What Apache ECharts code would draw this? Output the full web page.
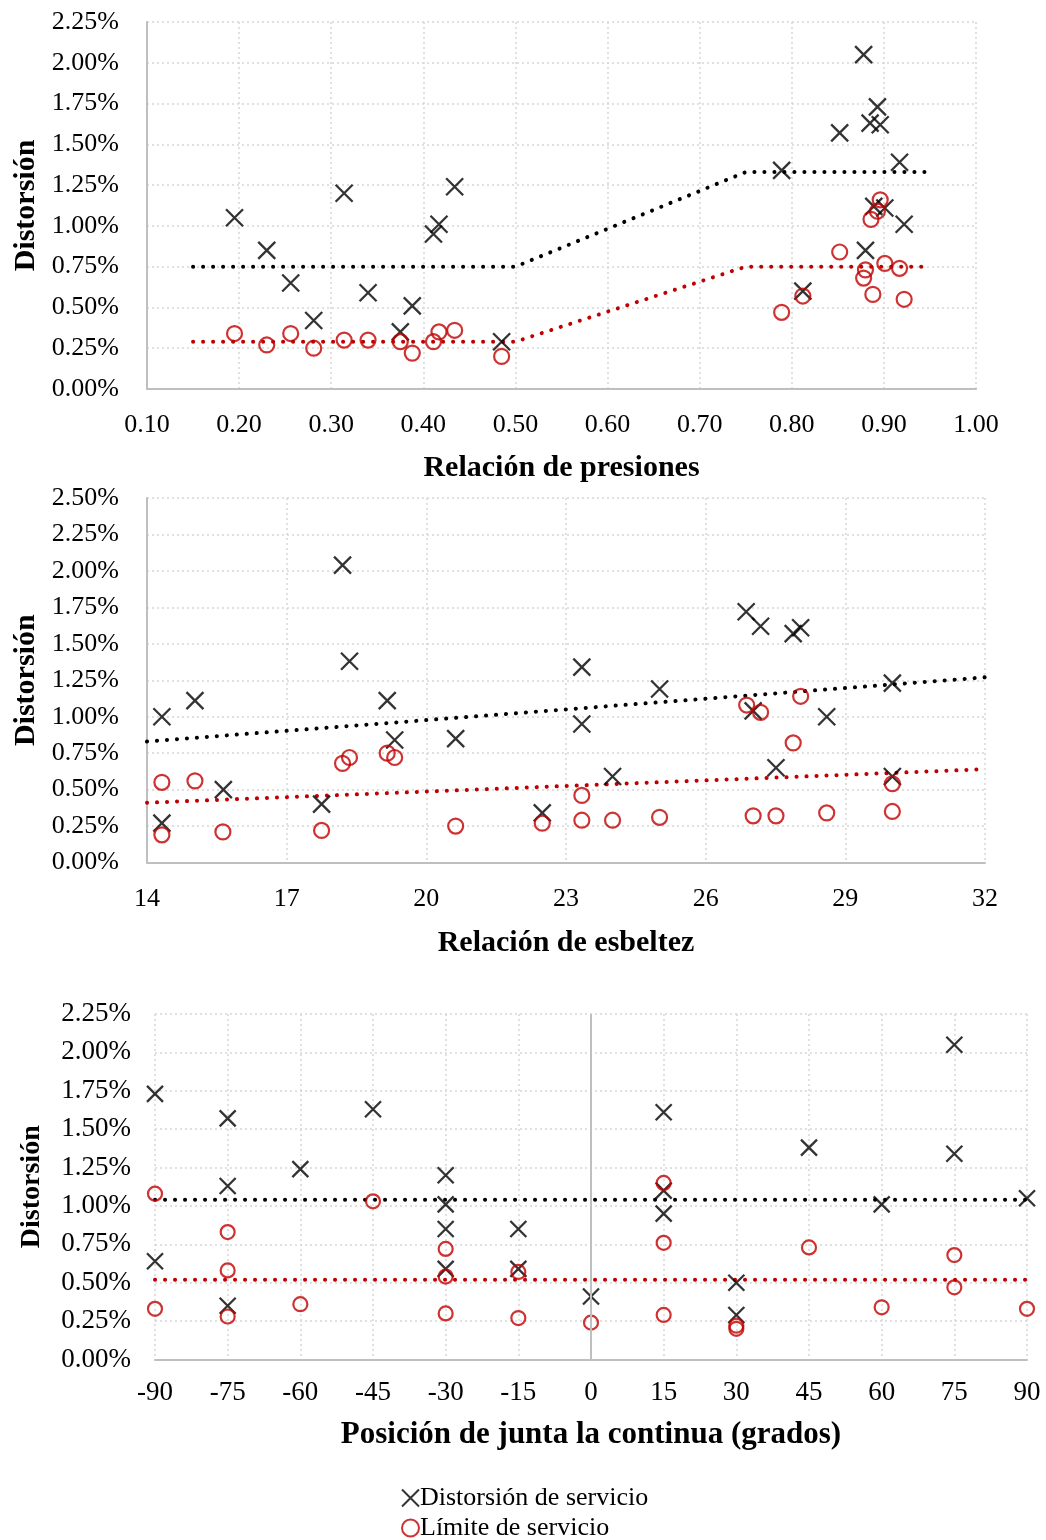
<!DOCTYPE html>
<html>
<head>
<meta charset="utf-8">
<title>Distorsión</title>
<script src="https://cdn.jsdelivr.net/npm/echarts@6/dist/echarts.min.js"></script>
<style>
  html, body { margin: 0; padding: 0; background: #fff; }
  #chart { width: 1046px; height: 1540px; }
</style>
</head>
<body>
<div id="chart"></div>
<script>
// ---- Relación de presiones ----
const presDistX = [0.195, 0.230, 0.256, 0.281, 0.314, 0.340, 0.375, 0.388, 0.411, 0.417, 0.434, 0.485,
                   0.789, 0.812, 0.852, 0.878, 0.880, 0.885, 0.889, 0.893, 0.896, 0.901, 0.917, 0.922];
const presDistY = [1.05, 0.85, 0.65, 0.42, 1.20, 0.59, 0.35, 0.51, 0.95, 1.01, 1.24, 0.29,
                   1.34, 0.60, 1.57, 2.05, 0.85, 1.63, 1.12, 1.73, 1.62, 1.11, 1.39, 1.01];
const presLimX  = [0.195, 0.230, 0.256, 0.281, 0.314, 0.340, 0.375, 0.388, 0.411, 0.417, 0.434, 0.485,
                   0.789, 0.812, 0.852, 0.878, 0.880, 0.886, 0.888, 0.893, 0.896, 0.901, 0.917, 0.922];
const presLimY  = [0.34, 0.27, 0.34, 0.25, 0.30, 0.30, 0.29, 0.22, 0.29, 0.35, 0.36, 0.20,
                   0.47, 0.57, 0.84, 0.68, 0.73, 1.04, 0.58, 1.09, 1.16, 0.77, 0.74, 0.55];
const presTrendX     = [0.15, 0.50, 0.75, 0.95];
const presTrendDistY = [0.75, 0.75, 1.33, 1.33];
const presTrendLimY  = [0.29, 0.29, 0.75, 0.75];

// ---- Relación de esbeltez ----
const esbDistX = [14.32, 15.03, 15.64, 14.32, 18.20, 18.35, 17.75, 19.16, 19.32, 20.63, 23.34, 23.34,
                  22.49, 24.00, 25.01, 26.87, 27.18, 27.88, 28.04, 27.02, 27.51, 28.60, 30.01, 30.01];
const esbDistY = [1.00, 1.11, 0.50, 0.27, 2.04, 1.38, 0.40, 1.11, 0.84, 0.85, 1.34, 0.95,
                  0.34, 0.59, 1.19, 1.72, 1.62, 1.57, 1.61, 1.04, 0.65, 1.00, 1.23, 0.59];
const esbLimX  = [14.32, 15.03, 14.32, 15.63, 18.20, 18.35, 17.75, 19.16, 19.32, 20.63, 22.49, 23.34,
                  23.34, 24.00, 25.01, 26.88, 27.18, 28.04, 27.88, 27.02, 27.51, 28.60, 30.01, 30.01];
const esbLimY  = [0.55, 0.56, 0.19, 0.21, 0.68, 0.72, 0.22, 0.75, 0.72, 0.25, 0.27, 0.46,
                  0.29, 0.29, 0.31, 1.08, 1.03, 1.14, 0.82, 0.32, 0.32, 0.34, 0.54, 0.35];
const esbTrendX     = [14, 32];
const esbTrendDistY = [0.83, 1.27];
const esbTrendLimY  = [0.41, 0.64];

// ---- Posición de junta ----
const angDistX = [-90, -90, -75, -75, -75, -60, -45, -30, -30, -30, -30, -15, -15,
                  0, 15, 15, 15, 30, 30, 45, 60, 75, 75, 90];
const angDistY = [1.73, 0.64, 1.57, 1.13, 0.35, 1.24, 1.63, 1.20, 1.01, 0.85, 0.59, 0.85, 0.59,
                  0.41, 1.61, 1.10, 0.95, 0.50, 0.29, 1.38, 1.01, 2.05, 1.34, 1.05];
const angLimX  = [-90, -90, -75, -75, -75, -60, -45, -30, -30, -30, -15, -15,
                  0, 15, 15, 15, 30, 30, 45, 60, 75, 75, 90];
const angLimY  = [1.08, 0.33, 0.83, 0.58, 0.28, 0.36, 1.03, 0.72, 0.54, 0.30, 0.57, 0.27,
                  0.24, 1.15, 0.76, 0.29, 0.22, 0.20, 0.73, 0.34, 0.68, 0.47, 0.33];
const angTrendX     = [-90, 90];
const angTrendDistY = [1.04, 1.04];
const angTrendLimY  = [0.52, 0.52];

const NAME_DIST = 'Distorsión de servicio';
const NAME_LIM  = 'Límite de servicio';
const RED = '#c00000';
const FONT = "'Liberation Serif', 'Times New Roman', serif";
const CROSS = 'path://M0,0L10,10M10,0L0,10';

const zip = (xs, ys) => xs.map((x, i) => [x, ys[i]]);

const gridDots = { show: true, lineStyle: { type: [2, 3], color: '#d6d6d6', width: 1.5 } };
const solidAxis = { show: true, onZero: false, lineStyle: { color: '#bfbfbf', width: 2 } };

function xAxisFor(idx, min, max, interval, fmt, name, labelSize, nameGap, margin, nameSize) {
  return {
    gridIndex: idx, type: 'value', min, max, interval,
    axisLine: solidAxis, axisTick: { show: false }, splitLine: gridDots,
    axisLabel: { color: '#000', fontFamily: FONT, fontSize: labelSize, margin, formatter: fmt },
    name, nameLocation: 'middle', nameGap,
    nameTextStyle: { color: '#000', fontFamily: FONT, fontSize: nameSize, fontWeight: 'bold' }
  };
}
function yAxisFor(idx, max, labelSize, showLine, nameGap, margin, nameSize) {
  return {
    gridIndex: idx, type: 'value', min: 0, max, interval: 0.25,
    axisLine: showLine ? solidAxis : { show: false }, axisTick: { show: false }, splitLine: gridDots,
    axisLabel: { color: '#000', fontFamily: FONT, fontSize: labelSize, margin,
                 formatter: v => v.toFixed(2) + '%' },
    name: 'Distorsión', nameLocation: 'middle', nameRotate: 90, nameGap,
    nameTextStyle: { color: '#000', fontFamily: FONT, fontSize: nameSize, fontWeight: 'bold' }
  };
}

function crossSeries(idx, data, size) {
  return {
    name: NAME_DIST, type: 'scatter', xAxisIndex: idx, yAxisIndex: idx, data,
    symbol: CROSS, symbolSize: size,
    itemStyle: { color: 'rgba(0,0,0,0)', borderColor: '#000', borderWidth: 2.3 }, z: 3
  };
}
function circleSeries(idx, data, size) {
  return {
    name: NAME_LIM, type: 'scatter', xAxisIndex: idx, yAxisIndex: idx, data,
    symbol: 'circle', symbolSize: size,
    itemStyle: { color: 'rgba(0,0,0,0)', borderColor: RED, borderWidth: 2.2 }, z: 4
  };
}
function trendSeries(idx, data, color, name) {
  return {
    name, type: 'line', xAxisIndex: idx, yAxisIndex: idx, data,
    showSymbol: false, symbol: 'none', silent: true, z: 2,
    lineStyle: { color, width: 4, type: [0.1, 9.9], cap: 'round' }
  };
}

function legendFor(name, top) {
  return {
    left: 396, top, data: [name],
    itemWidth: 17, itemHeight: 17,
    textStyle: { color: '#000', fontFamily: FONT, fontSize: 26, padding: [0, 0, 0, -4] }
  };
}

const chart = echarts.init(document.getElementById('chart'), null, { renderer: 'canvas' });

const option = {
  animation: false,
  backgroundColor: '#fff',
  grid: [
    { left: 147, top: 22, width: 829, height: 367 },
    { left: 147, top: 498, width: 838, height: 364.5 },
    { left: 155, top: 1014, width: 872, height: 345.5 }
  ],
  xAxis: [
    xAxisFor(0, 0.1, 1.0, 0.1, v => v.toFixed(2), 'Relación de presiones', 26, 64, 23, 30),
    xAxisFor(1, 14, 32, 3, v => String(v), 'Relación de esbeltez', 26, 66, 24, 30),
    xAxisFor(2, -90, 90, 15, v => String(v), 'Posición de junta la continua (grados)', 27, 60, 20, 31)
  ],
  yAxis: [
    yAxisFor(0, 2.25, 26, true, 105, 28, 30),
    yAxisFor(1, 2.5, 26, true, 105, 28, 30),
    yAxisFor(2, 2.25, 27, false, 109, 24, 28)
  ],
  legend: [
    legendFor(NAME_DIST, 1480),
    legendFor(NAME_LIM, 1510)
  ],
  series: [
    trendSeries(0, zip(presTrendX, presTrendDistY), '#000', 'trend-pres-dist'),
    trendSeries(0, zip(presTrendX, presTrendLimY), RED, 'trend-pres-lim'),
    crossSeries(0, zip(presDistX, presDistY), 17),
    circleSeries(0, zip(presLimX, presLimY), 15),

    trendSeries(1, zip(esbTrendX, esbTrendDistY), '#000', 'trend-esb-dist'),
    trendSeries(1, zip(esbTrendX, esbTrendLimY), RED, 'trend-esb-lim'),
    crossSeries(1, zip(esbDistX, esbDistY), 17),
    circleSeries(1, zip(esbLimX, esbLimY), 15),

    {
      // vertical reference line at 0 degrees
      type: 'line', xAxisIndex: 2, yAxisIndex: 2, data: [], silent: true,
      markLine: {
        silent: true, symbol: 'none', label: { show: false },
        lineStyle: { type: 'solid', color: '#bfbfbf', width: 2 },
        data: [{ xAxis: 0 }]
      }
    },
    trendSeries(2, zip(angTrendX, angTrendDistY), '#000', 'trend-ang-dist'),
    trendSeries(2, zip(angTrendX, angTrendLimY), RED, 'trend-ang-lim'),
    crossSeries(2, zip(angDistX, angDistY), 16),
    circleSeries(2, zip(angLimX, angLimY), 14)
  ]
};

chart.setOption(option);
</script>
</body>
</html>
